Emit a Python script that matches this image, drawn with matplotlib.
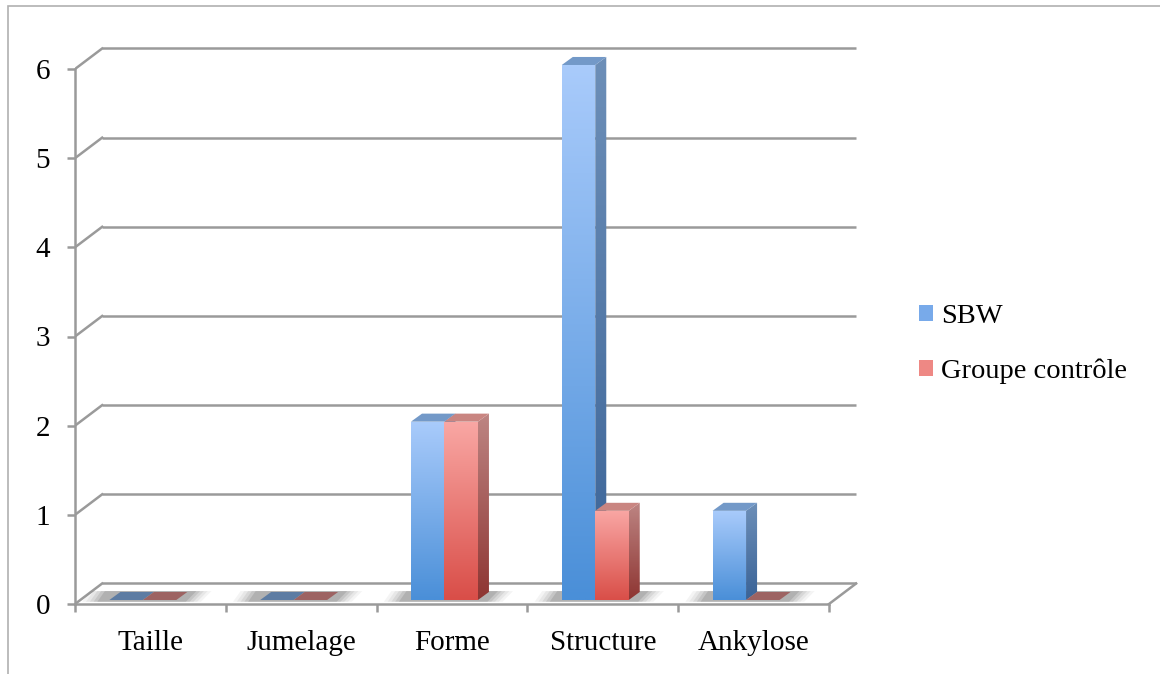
import numpy as np
import matplotlib
matplotlib.use("Agg")
import matplotlib.pyplot as plt
from matplotlib.patches import Polygon, Patch, Rectangle
from matplotlib.colors import to_rgb

categories = ["Taille", "Jumelage", "Forme", "Structure", "Ankylose"]
sbw = [0, 0, 2, 6, 1]
controle = [0, 0, 2, 1, 0]
series_names = ["SBW", "Groupe contrôle"]
yticks = [0, 1, 2, 3, 4, 5, 6]

plt.rcParams['font.family'] = ['Liberation Serif', 'DejaVu Serif']

GRID = "#9a9a9a"
FS = 21
# 3D look: back wall offset and bar depth, in data units
WALL_DX, WALL_DY = 0.18, 0.23
BAR_DX, BAR_DY = 0.073, 0.09
BAR_W = 0.222
BAR_OFF = 0.228
BASE = 0.045
YMAX, XPAD = 6.5, 0.3

styles = [
    dict(top="#a9cbfb", bot="#4a8fd8", side_top="#6d8fb8", side_bot="#3a6397",
         cap="#7399c8", flat="#5d7ca3", legend="#78aaea"),
    dict(top="#f9a7a4", bot="#d94e48", side_top="#bd8583", side_bot="#8e3532",
         cap="#c98581", flat="#9d6362", legend="#ee8884"),
]

n = len(categories)
W, H = 1160, 674
unit_x = (829 - 75) / n
unit_y = (604 - 69) / 6

fig = plt.figure(figsize=(11.6, 6.74), dpi=100)
ax_h = unit_y * YMAX
ax_w = unit_x * (n + XPAD)
ax = fig.add_axes([75 / W, (H - 604) / H, ax_w / W, ax_h / H])

# outer chart border
fig.patches.append(Rectangle((8 / W, -0.05), 1.2, (H - 6) / H + 0.05,
                             transform=fig.transFigure, fill=False,
                             edgecolor="#b0b0b0", linewidth=1.2))

# back wall grid lines + left wall diagonals
for k in yticks:
    ax.plot([WALL_DX, n + WALL_DX], [k + WALL_DY, k + WALL_DY], color=GRID,
            lw=1.8, zorder=1, solid_capstyle="butt")
    ax.plot([0, WALL_DX], [k, k + WALL_DY], color=GRID, lw=1.8, zorder=1)
# floor right edge
ax.plot([n, n + WALL_DX], [0, WALL_DY], color=GRID, lw=1.8, zorder=1)


def grad_poly(verts, c_top, c_bot, z):
    verts = np.asarray(verts)
    poly = Polygon(verts, closed=True, facecolor="none", edgecolor="none")
    ax.add_patch(poly)
    t = np.linspace(0, 1, 128)[:, None, None]
    arr = np.array(to_rgb(c_top))[None, None, :] * (1 - t) + \
        np.array(to_rgb(c_bot))[None, None, :] * t
    x0, x1 = verts[:, 0].min(), verts[:, 0].max()
    y0, y1 = verts[:, 1].min(), verts[:, 1].max()
    im = ax.imshow(arr, extent=[x0, x1, y0, y1], origin="upper", aspect="auto",
                   interpolation="bilinear", zorder=z)
    im.set_clip_path(poly)


def draw_bar(x0, v, st, z):
    x1 = x0 + BAR_W
    top = BASE + v
    if v == 0:
        ax.add_patch(Polygon([(x0, BASE), (x1, BASE), (x1 + BAR_DX, BASE + BAR_DY),
                              (x0 + BAR_DX, BASE + BAR_DY)], closed=True,
                             facecolor=st["flat"], edgecolor="none", zorder=z))
        return
    grad_poly([(x0, BASE), (x1, BASE), (x1, top), (x0, top)], st["top"], st["bot"], z)
    grad_poly([(x1, BASE), (x1 + BAR_DX, BASE + BAR_DY), (x1 + BAR_DX, top + BAR_DY),
               (x1, top)], st["side_top"], st["side_bot"], z)
    ax.add_patch(Polygon([(x0, top), (x1, top), (x1 + BAR_DX, top + BAR_DY),
                          (x0 + BAR_DX, top + BAR_DY)], closed=True,
                         facecolor=st["cap"], edgecolor="none", zorder=z))


for i in range(n):
    # soft floor shadow under each pair of bars
    sx0 = i + BAR_OFF
    sx1 = sx0 + 2 * BAR_W + BAR_DX
    for j, a in enumerate([0.07, 0.09, 0.12, 0.16, 0.22]):
        g = 0.11 - j * 0.025
        ax.add_patch(Polygon([(sx0 - 0.07 - g, BASE - 0.02), (sx1 - 0.02 + g, BASE - 0.02),
                              (sx1 + 0.05 + g, BASE + BAR_DY + 0.01),
                              (sx0 - 0.02 - g, BASE + BAR_DY + 0.01)], closed=True,
                             facecolor="#6a6a6a", alpha=a, edgecolor="none",
                             zorder=2))
    for s, vals in enumerate([sbw, controle]):
        draw_bar(i + BAR_OFF + s * BAR_W, vals[i], styles[s], 3 + s)

ax.set_xlim(0, n + XPAD)
ax.set_ylim(0, YMAX)

for side in ["top", "right"]:
    ax.spines[side].set_visible(False)
for side in ["left", "bottom"]:
    ax.spines[side].set_color(GRID)
    ax.spines[side].set_linewidth(1.8)
    ax.spines[side].set_zorder(6)
ax.spines["left"].set_bounds(0, 6)
ax.spines["bottom"].set_bounds(0, n)
ax.patch.set_visible(False)

ax.set_yticks(yticks)
ax.set_yticklabels([str(v) for v in yticks])
ax.set_xticks(range(n + 1))
ax.set_xticklabels([])
ax.set_xticks(np.arange(n) + 0.5, minor=True)
ax.set_xticklabels(categories, minor=True)
ax.tick_params(axis="both", which="major", color=GRID, width=1.8, length=6,
               labelsize=FS)
ax.tick_params(axis="y", pad=12)
ax.tick_params(axis="x", which="minor", length=0, pad=19, labelsize=FS)

handles = [Patch(facecolor=st["legend"], edgecolor="none") for st in styles]
fig.legend(handles, series_names, loc="center left",
           bbox_to_anchor=(893 / W, (H - 344) / H), frameon=False, fontsize=20.5,
           handlelength=0.5, handleheight=0.5, handletextpad=0.3,
           labelspacing=1.05)

fig.savefig("out.png", dpi=100)
